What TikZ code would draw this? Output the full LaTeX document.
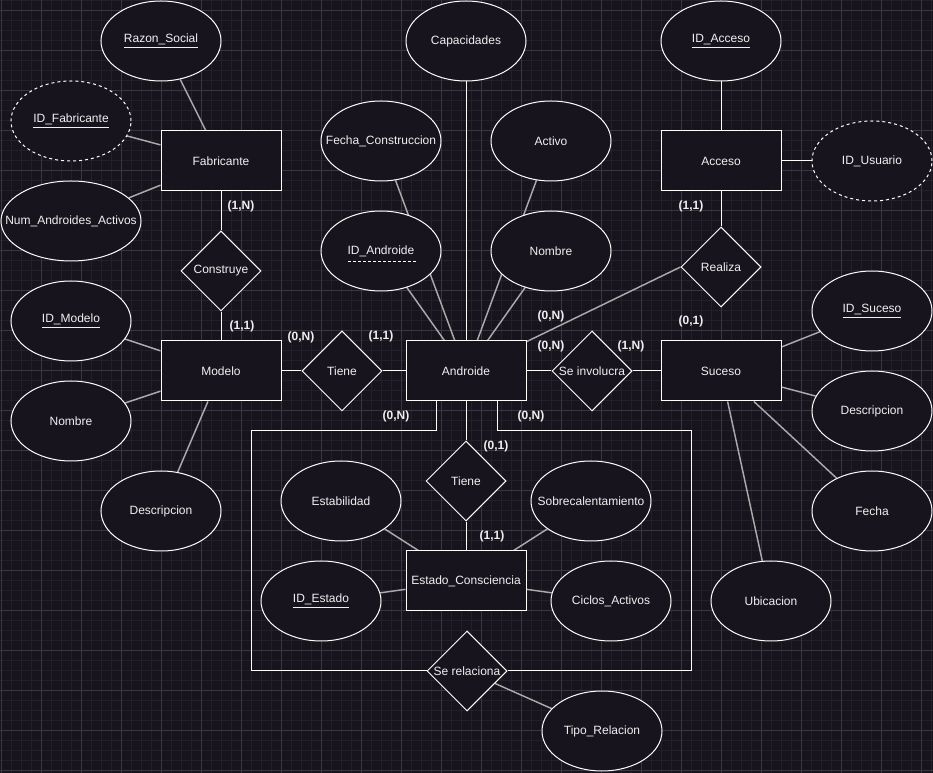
\documentclass[tikz,border=0pt]{standalone}
\usepackage{fontspec}
\setmainfont{Liberation Sans}
\usetikzlibrary{shapes.geometric,calc}
\pgfdeclarelayer{gridlayer}
\pgfdeclarelayer{edges}
\pgfsetlayers{gridlayer,edges,main}
\definecolor{bgc}{RGB}{24,20,30}
\definecolor{minorc}{RGB}{35,32,41}
\definecolor{majorc}{RGB}{58,55,66}
\definecolor{attrc}{RGB}{170,170,170}
\definecolor{txtc}{RGB}{240,240,240}
\newcommand{\myul}[1]{\underline{#1}}
\begin{document}
\begin{tikzpicture}[x=0.75pt,y=-0.75pt,
 every node/.style={font=\fontsize{9}{11}\selectfont, text=txtc},
 ent/.style={draw=white, line width=0.75pt, fill=bgc, minimum width=90pt, minimum height=45pt, inner sep=0pt},
 attr/.style={ellipse, draw=white, line width=0.75pt, fill=bgc, minimum width=90pt, minimum height=60pt, inner sep=0pt, label={center:#1}},
 wattr/.style={attr={#1}, minimum width=105pt},
 dattr/.style={attr={#1}, dash pattern=on 2.25pt off 2.25pt},
 rel/.style={diamond, draw=white, line width=0.75pt, fill=bgc, minimum width=60pt, minimum height=60pt, inner sep=0pt, label={center:#1}},
 card/.style={font=\bfseries\fontsize{9}{11}\selectfont, text=txtc},
 conn/.style={draw=white, line width=0.75pt},
 aline/.style={draw=attrc, line width=1.1pt},
]
\useasboundingbox (0,0) rectangle (933,773);
\begin{pgfonlayer}{gridlayer}
\fill[bgc] (0,0) rectangle (933,773);
\foreach \i in {0,...,93} {\draw[minorc, line width=0.75pt] (1+10*\i,0) -- (1+10*\i,773);}
\foreach \i in {0,...,77} {\draw[minorc, line width=0.75pt] (0,1+10*\i) -- (933,1+10*\i);}
\foreach \i in {0,...,23} {\draw[majorc, line width=0.75pt] (1+40*\i,0) -- (1+40*\i,773);}
\foreach \i in {0,...,19} {\draw[majorc, line width=0.75pt] (0,11+40*\i) -- (933,11+40*\i);}
\end{pgfonlayer}

% Fabricante
\node[ent] (fab) at (221,161) {Fabricante};
\node[attr={\myul{Razon\_Social}}] (razon) at (161,41) {};
\node[dattr={\myul{ID\_Fabricante}}] (idfab) at (71,121) {};
\node[wattr={Num\_Androides\_Activos}] (numand) at (71,221) {};
\node[rel={Construye}] (construye) at (221,271) {};
% Modelo
\node[ent] (modelo) at (221,371) {Modelo};
\node[attr={\myul{ID\_Modelo}}] (idmod) at (71,321) {};
\node[attr={Nombre}] (nommod) at (71,421) {};
\node[attr={Descripcion}] (descmod) at (161,511) {};
\node[rel={Tiene}] (tiene1) at (342,371) {};
% Androide
\node[ent] (androide) at (466,371) {Androide};
\node[attr={Capacidades}] (capac) at (466,41) {};
\node[attr={Fecha\_Construccion}] (fechac) at (381,141) {};
\node[attr={Activo}] (activo) at (551,141) {};
\node[attr={ID\_Androide}] (idand) at (381,251) {};
\draw[white, line width=0.6pt, dash pattern=on 2.25pt off 1.5pt] ($(idand)+(-33,10)$) -- ($(idand)+(35,10)$);
\node[attr={Nombre}] (nomand) at (551,251) {};
\node[rel={Se involucra}] (invol) at (592,371) {};
% Suceso
\node[ent] (suceso) at (721,371) {Suceso};
\node[attr={\myul{ID\_Suceso}}] (idsuc) at (872,311) {};
\node[attr={Descripcion}] (descsuc) at (872,411) {};
\node[attr={Fecha}] (fecha) at (872,511) {};
\node[attr={Ubicacion}] (ubic) at (771,601) {};
% Acceso
\node[rel={Realiza}] (realiza) at (721,267) {};
\node[ent] (acceso) at (721,161) {Acceso};
\node[attr={\myul{ID\_Acceso}}] (idacc) at (721,41) {};
\node[dattr={ID\_Usuario}] (idusr) at (872,161) {};
% Estado
\node[rel={Tiene}] (tiene2) at (466,481) {};
\node[ent] (estado) at (466,581) {Estado\_Consciencia};
\node[attr={Estabilidad}] (estab) at (341,501) {};
\node[attr={Sobrecalentamiento}] (sobre) at (591,501) {};
\node[attr={\myul{ID\_Estado}}] (idest) at (321,601) {};
\node[attr={Ciclos\_Activos}] (ciclos) at (611,601) {};
\node[rel={Se relaciona}] (serel) at (467,671) {};
\node[attr={Tipo\_Relacion}] (tipo) at (602,731) {};
\coordinate (bl) at (251,431);
\coordinate (br) at (691,431);

% cardinalities
\node[card] (k1) at (241,206) {(1,N)};
\node[card] (k2) at (242,326) {(1,1)};
\node[card] (k3) at (301,337) {(0,N)};
\node[card] (k4) at (381,336) {(1,1)};
\node[card] (k5) at (551,316) {(0,N)};
\node[card] (k6) at (551,346) {(0,N)};
\node[card] (k7) at (631,346) {(1,N)};
\node[card] (k8) at (691,321) {(0,1)};
\node[card] (k9) at (691,206) {(1,1)};
\node[card] (k10) at (396,416) {(0,N)};
\node[card] (k11) at (531,416) {(0,N)};
\node[card] (k12) at (496,446) {(0,1)};
\node[card] (k13) at (492,536) {(1,1)};

\begin{pgfonlayer}{edges}
\draw[conn] (fab) -- (construye);
\draw[conn] (construye) -- (modelo);
\draw[conn] (modelo) -- (tiene1);
\draw[conn] (tiene1) -- (androide);
\draw[conn] (androide) -- (invol);
\draw[conn] (invol) -- (suceso);
\draw[conn] (idacc) -- (acceso);
\draw[conn] (acceso) -- (idusr);
\draw[conn] (acceso) -- (realiza);
\draw[conn] (capac) -- (androide);
\draw[conn] (androide) -- (tiene2);
\draw[conn] (tiene2) -- (estado);
\draw[conn] ($(androide.south)+(-30,0)$) |- (bl) |- (serel.west);
\draw[conn] ($(androide.south)+(31,0)$) |- (br) |- (serel.east);
\draw[aline] (razon) -- (fab);
\draw[aline] (idfab) -- (fab);
\draw[aline] (numand) -- (fab);
\draw[aline] (idmod) -- (modelo);
\draw[aline] (nommod) -- (modelo);
\draw[aline] (descmod) -- (modelo);
\draw[aline] (fechac) -- (androide);
\draw[aline] (activo) -- (androide);
\draw[aline] (idand) -- (androide);
\draw[aline] (nomand) -- (androide);
\draw[aline] (realiza.west) -- (androide);
\draw[aline] (idsuc) -- (suceso);
\draw[aline] (descsuc) -- (suceso);
\draw[aline] (fecha) -- (suceso);
\draw[aline] (ubic) -- (suceso);
\draw[aline] (estab) -- (estado);
\draw[aline] (sobre) -- (estado);
\draw[aline] (idest) -- (estado);
\draw[aline] (ciclos) -- (estado);
\draw[aline] (serel) -- (tipo);
\end{pgfonlayer}
\end{tikzpicture}
\end{document}
